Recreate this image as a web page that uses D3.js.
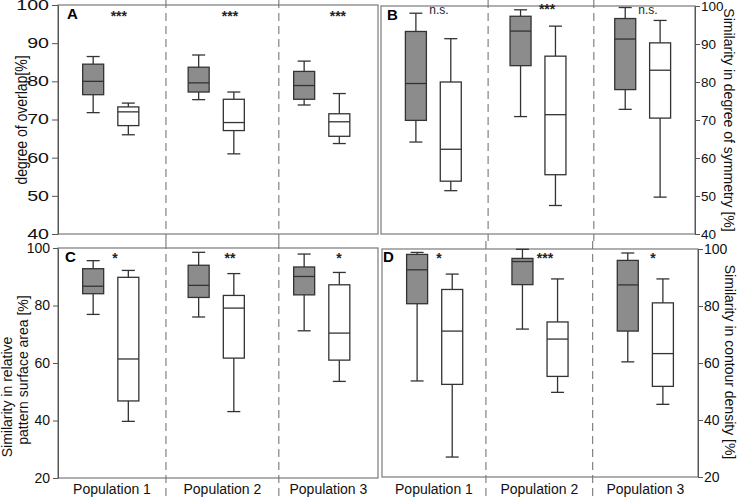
<!DOCTYPE html>
<html><head><meta charset="utf-8">
<script src="https://cdn.jsdelivr.net/npm/d3@7"></script>
<style>body{margin:0;background:#fff}svg{display:block;font-family:"Liberation Sans",Arial,sans-serif}</style>
</head><body><svg id="c" width="738" height="498"></svg>
<script>
const populations = ["Population 1","Population 2","Population 3"];
// each entry: [min, q1, median, q3, max]
const overlapGray = [[71.8,76.5,80.0,84.5,86.5],[75.2,77.2,79.6,83.7,86.9],[73.8,75.3,78.9,82.6,85.3]];
const overlapWhite = [[66.0,68.4,72.0,73.3,74.3],[61.0,67.1,69.2,75.3,77.2],[63.7,65.6,69.4,71.5,76.8]];
const symmetryGray = [[64.2,69.9,79.6,93.3,98.1],[70.9,84.3,93.4,97.3,99.0],[72.8,78.0,91.3,96.7,99.6]];
const symmetryWhite = [[51.4,53.9,62.3,80.0,91.4],[47.5,55.6,71.4,86.8,94.7],[49.7,70.5,83.1,90.3,96.2]];
const areaGray = [[76.9,84.1,86.7,92.8,95.6],[76.0,82.8,87.0,94.0,98.5],[71.2,83.7,90.1,93.4,97.9]];
const areaWhite = [[39.7,46.8,61.4,89.8,92.2],[43.1,61.7,79.1,83.5,91.1],[53.6,61.0,70.4,87.2,91.5]];
const densityGray = [[53.7,80.8,92.7,98.1,98.8],[71.9,87.5,95.6,96.7,99.9],[60.4,71.2,87.4,96.0,98.6]];
const densityWhite = [[27.0,52.5,71.2,85.8,91.2],[49.7,55.3,68.4,74.4,89.5],[45.5,51.8,63.3,81.1,89.5]];
const sigA = ["***","***","***"];
const sigB = ["n.s.","***","n.s."];
const sigC = ["*","**","*"];
const sigD = ["*","***","*"];
const ticksTop = [40,50,60,70,80,90,100];
const ticksBottom = [20,40,60,80,100];
const titleA = ["degree of overlap[%]"];
const titleB = ["Similarity in degree of symmetry [%]"];
const titleC = ["Similarity in relative","pattern surface area [%]"];
const titleD = ["Similarity in contour density [%]"];

const svg = d3.select("#c");
const slotsGray = [1,4,7], slotsWhite = [2,5,8];

const panels = [
 {x0:58,x1:378,y0:5,y1:234,ydom:[40,100],xdom:[0,9.1],dash:[3.07,6.28],side:"left",ticks:ticksTop,
  gray:overlapGray,white:overlapWhite,sig:sigA,sigX:[1.73,4.89,7.96],sigY:21,letter:"A",lx:67,ly:19,
  dashY:[0,241],title:titleA,tpos:[[21,120]],pops:false,tickFont:14,tickStretch:1.4,tickSize:6,pad:3,titleStretch:1.15},
 {x0:381,x1:695,y0:6,y1:234,ydom:[40,100],xdom:[0,9],dash:[3.07,6.1],side:"right",ticks:ticksTop,
  gray:symmetryGray,white:symmetryWhite,sig:sigB,sigX:[1.66,4.76,7.65],sigY:14,letter:"B",lx:387,ly:20,
  dashY:[0,241],title:titleB,tpos:[[729,120]],pops:false,tickFont:13.5,tickStretch:1,tickSize:5,pad:1,titleStretch:1},
 {x0:58,x1:378,y0:248,y1:478,ydom:[20,100],xdom:[0,9.1],dash:[3.07,6.28],side:"left",ticks:ticksBottom,
  gray:areaGray,white:areaWhite,sig:sigC,sigX:[1.62,4.89,7.99],sigY:263,letter:"C",lx:65,ly:262,
  dashY:[241,498],title:titleC,tpos:[[7,397],[23,370]],pops:true,tickFont:14,tickStretch:1,tickSize:5,pad:3,titleStretch:1},
 {x0:382,x1:698,y0:249,y1:477,ydom:[20,100],xdom:[0,9],dash:[2.96,6.0],side:"right",ticks:ticksBottom,
  gray:densityGray,white:densityWhite,sig:sigD,sigX:[1.62,4.64,7.72],sigY:263,letter:"D",lx:383,ly:262,
  dashY:[241,498],title:titleD,tpos:[[730,362]],pops:true,tickFont:14,tickStretch:1,tickSize:5,pad:1,titleStretch:1}
];

panels.forEach(p=>{
  const x = d3.scaleLinear().domain(p.xdom).range([p.x0,p.x1]);
  const y = d3.scaleLinear().domain(p.ydom).range([p.y1,p.y0]);
  const g = svg.append("g");
  // frame
  g.append("rect").attr("x",p.x0).attr("y",p.y0).attr("width",p.x1-p.x0).attr("height",p.y1-p.y0)
    .attr("fill","none").attr("stroke","#7a7a7a").attr("stroke-width",1.2);
  // dashed separators
  p.dash.forEach(d=>{
    g.append("line").attr("x1",x(d)).attr("x2",x(d)).attr("y1",p.dashY[0]).attr("y2",p.dashY[1])
      .attr("stroke","#777").attr("stroke-width",1.1).attr("stroke-dasharray","8,5");
  });
  // axis
  const ax = p.side==="left" ? d3.axisLeft(y) : d3.axisRight(y);
  ax.tickValues(p.ticks).tickSize(p.tickSize).tickSizeOuter(0).tickPadding(p.pad);
  const axg = g.append("g").attr("transform",`translate(${p.side==="left"?p.x0:p.x1},0)`).call(ax);
  axg.select(".domain").attr("stroke","#555");
  axg.selectAll(".tick line").attr("stroke","#555");
  const tt = axg.selectAll("text").attr("font-size",p.tickFont).attr("fill","#111").attr("font-family","Liberation Sans, Arial, sans-serif");
  if(p.tickStretch!==1){
    const off = (p.tickSize+p.pad)*(p.side==="left"?-1:1);
    tt.attr("x",off/p.tickStretch).attr("transform",`scale(${p.tickStretch},1)`);
  }
  // boxes
  const bw = 21, cw = 13;
  const drawBox = (s, cx, fill) => {
    const c = x(cx);
    const bg = g.append("g").attr("stroke","#333").attr("stroke-width",1.3);
    bg.append("line").attr("x1",c).attr("x2",c).attr("y1",y(s[0])).attr("y2",y(s[1]));
    bg.append("line").attr("x1",c).attr("x2",c).attr("y1",y(s[3])).attr("y2",y(s[4]));
    bg.append("line").attr("x1",c-cw/2).attr("x2",c+cw/2).attr("y1",y(s[0])).attr("y2",y(s[0]));
    bg.append("line").attr("x1",c-cw/2).attr("x2",c+cw/2).attr("y1",y(s[4])).attr("y2",y(s[4]));
    bg.append("rect").attr("x",c-bw/2).attr("y",y(s[3])).attr("width",bw).attr("height",y(s[1])-y(s[3])).attr("fill",fill);
    bg.append("line").attr("x1",c-bw/2).attr("x2",c+bw/2).attr("y1",y(s[2])).attr("y2",y(s[2]));
  };
  p.gray.forEach((s,i)=>drawBox(s, slotsGray[i], "#8c8c8c"));
  p.white.forEach((s,i)=>drawBox(s, slotsWhite[i], "#ffffff"));
  // significance
  p.sig.forEach((t,i)=>{
    g.append("text").attr("x",x(p.sigX[i])).attr("y",p.sigY).attr("text-anchor","middle")
      .attr("font-size",t==="n.s."?12:14).attr("font-weight",t==="n.s."?"normal":"bold").attr("fill","#222").text(t);
  });
  // panel letter
  g.append("text").attr("x",p.lx).attr("y",p.ly).attr("font-size",15).attr("font-weight","bold").text(p.letter);
  // population labels
  if(p.pops){
    const bounds = [p.xdom[0], ...p.dash, p.xdom[1]];
    populations.forEach((t,i)=>{
      g.append("text").attr("x",(x(bounds[i])+x(bounds[i+1]))/2).attr("y",494).attr("text-anchor","middle")
        .attr("font-size",14).attr("fill","#111").text(t);
    });
  }
  // axis titles
  p.title.forEach((t,i)=>{
    const [tx,ty] = p.tpos[i];
    g.append("text").attr("transform",`translate(${tx},${ty}) scale(${p.titleStretch},1) rotate(${p.side==="left"?-90:90})`)
      .attr("text-anchor","middle").attr("dominant-baseline","central").attr("font-size",14).attr("fill","#111").text(t);
  });
});
</script></body></html>
